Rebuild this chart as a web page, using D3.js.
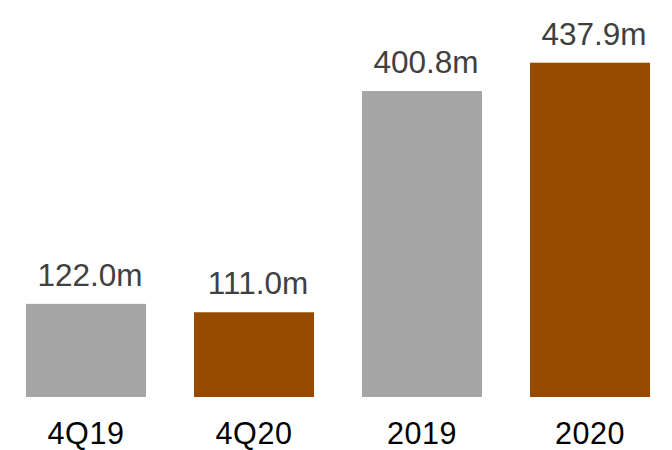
<!DOCTYPE html>
<html>
<head>
<meta charset="utf-8">
<script src="https://cdn.jsdelivr.net/npm/d3@7/dist/d3.min.js"></script>
<style>
  html, body { margin: 0; padding: 0; background: #fff; }
  svg { display: block; }
  text { font-family: "Liberation Sans", Arial, sans-serif; }
</style>
</head>
<body>
<svg id="chart" width="672" height="450"></svg>
<script>
// Revenue by period (millions)
const categories = ["4Q19", "4Q20", "2019", "2020"];
const values = [122.0, 111.0, 400.8, 437.9];
const valueLabels = ["122.0m", "111.0m", "400.8m", "437.9m"];
const barColors = ["#a6a6a6", "#964b00", "#a6a6a6", "#964b00"];

const width = 672, height = 450;
const baseline = 397;

const svg = d3.select("#chart");

const x = d3.scaleBand()
  .domain(categories)
  .range([2, 674])
  .paddingInner(2 / 7)
  .paddingOuter(1 / 7);

const y = d3.scaleLinear()
  .domain([0, 437.9])
  .range([baseline, 62.7]);

const data = categories.map((c, i) => ({ cat: c, value: values[i], label: valueLabels[i], color: barColors[i] }));

svg.append("g")
  .selectAll("rect")
  .data(data)
  .join("rect")
  .attr("x", d => x(d.cat))
  .attr("y", d => y(d.value))
  .attr("width", x.bandwidth())
  .attr("height", d => y(0) - y(d.value))
  .attr("fill", d => d.color);

// value labels above bars
svg.append("g")
  .selectAll("text")
  .data(data)
  .join("text")
  .attr("x", d => x(d.cat) + x.bandwidth() / 2 + 4)
  .attr("y", d => y(d.value) - 18)
  .attr("text-anchor", "middle")
  .attr("font-size", 31.5)
  .attr("fill", "#404040")
  .text(d => d.label);

// category axis (no line or ticks)
const axis = svg.append("g")
  .attr("transform", `translate(0,${baseline})`)
  .call(d3.axisBottom(x).tickSize(0).tickPadding(0));
axis.select(".domain").remove();
axis.selectAll("text")
  .attr("dy", null)
  .attr("y", 47)
  .attr("font-size", 30.5)
  .attr("letter-spacing", "0.6px")
  .attr("fill", "#000")
  .style("font-family", "'Liberation Sans', Arial, sans-serif");
</script>
</body>
</html>
